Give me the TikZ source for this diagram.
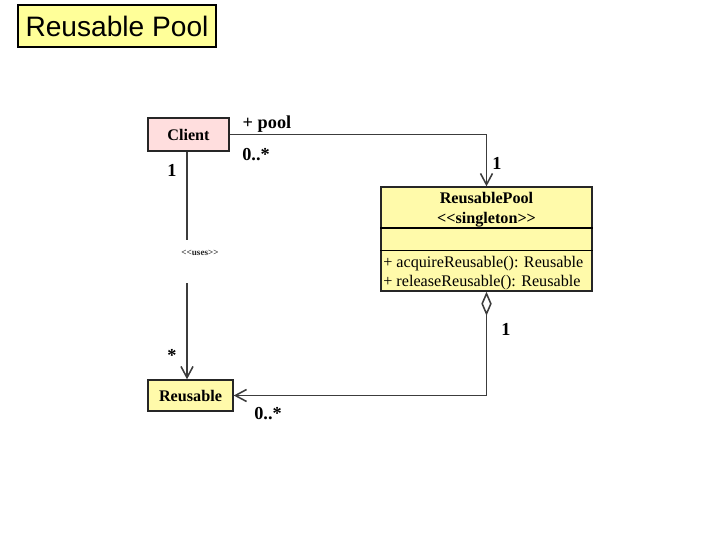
\documentclass[tikz,border=0pt]{standalone}
\usepackage{fontspec}
\setmainfont{Liberation Serif}
\newfontfamily\titlefont{Liberation Sans}
\usepackage{xcolor}
\definecolor{TitleYellow} {RGB}{255, 255, 153}
\definecolor{ClassYellow} {RGB}{255, 250, 170}
\definecolor{ClientPink}  {RGB}{255, 222, 222}
\definecolor{LineGray}    {RGB}{60,  60,  60}
\usetikzlibrary{arrows.meta, positioning}

\begin{document}
\begin{tikzpicture}[
  x=0.025cm, y=-0.025cm,
  classbox/.style={
    draw=black!85, line width=1pt,
    align=center, font=\bfseries\fontsize{11.5}{13}\selectfont,
    inner sep=2pt},
  mult/.style={
    font=\bfseries\fontsize{13}{15}\selectfont, inner sep=1pt},
  assoc/.style={
    draw=LineGray, line width=1.1pt,
    -{Straight Barb[length=2.8mm, width=3mm]}},
  aggr/.style={
    draw=LineGray, line width=1.1pt,
    {Diamond[open, length=6mm, width=2.6mm]}-{Straight Barb[length=2.8mm, width=3mm]}}
]
\useasboundingbox (0,0) rectangle (720,540);

\node[draw=black, line width=1.2pt, fill=TitleYellow,
  minimum width=4.95cm, minimum height=1.05cm,
  font=\titlefont\fontsize{20}{23}\selectfont]
  (title) at (117,26) {Reusable Pool};

% classes
\node[classbox, fill=ClientPink,
  minimum width=2.025cm, minimum height=0.825cm]
  (client) at (188.5,134.5) {Client};
\node[classbox, fill=ClassYellow,
  minimum width=5.275cm, minimum height=2.6cm]
  (pool) at (486.5,239) {};
\node[font=\bfseries\fontsize{11.5}{13}\selectfont,
  align=center, inner sep=0pt]
  (poolname) at (486.5,210)
  {ReusablePool\\[1pt]{<}{<}singleton{>}{>}};
\node[font=\fontsize{11.5}{13}\selectfont,
  align=left, anchor=west, inner sep=0pt]
  (poolops) at (383,273)
  {+ acquireReusable(): Reusable\\[1pt]
  + releaseReusable(): Reusable};
\draw[line width=1.3pt] (pool.west |- 0,228) -- (pool.east |- 0,228);
\draw[line width=0.7pt] (pool.west |- 0,250) -- (pool.east |- 0,250);
\node[classbox, fill=ClassYellow,
  minimum width=2.125cm, minimum height=0.775cm]
  (reusable) at (190.5,395.5) {Reusable};

% client -> pool
\draw[assoc] (client.east) -| (pool.north);
\node[mult] (poolrole) at (267,124) {+ pool};
\node[mult] (poolmany) at (256,155) {0..*};
\node[mult] (poolone) at (497,163) {1};

% client uses reusable
\node[font=\bfseries\fontsize{6.5}{7}\selectfont, text=black!85,
  inner sep=0pt, text height=11pt, text depth=19.5pt, anchor=north]
  (uses) at (200,240) {{<}{<}uses{>}{>}};
\draw[LineGray, line width=1.1pt]
  (client.south -| 187,0) -- (uses.north -| 187,0);
\draw[assoc] (uses.south -| 187,0) -- (reusable.north -| 187,0);
\node[mult] (clientone) at (172,170) {1};
\node[mult] (reusemany) at (172,355) {*};

% pool aggregates reusable
\draw[aggr] (pool.south) |- (reusable.east);
\node[mult] (aggrone) at (506,329) {1};
\node[mult] (aggrmany) at (268,414) {0..*};

\end{tikzpicture}
\end{document}
